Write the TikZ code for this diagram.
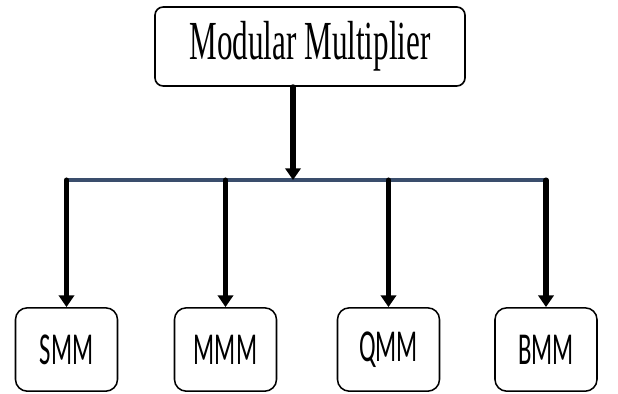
\documentclass[tikz,border=0pt]{standalone}
\usepackage{fontspec}
\usepackage{graphicx}
\usetikzlibrary{arrows.meta}
\newfontfamily\serifface{Liberation Serif}
\newfontfamily\sansface{Carlito}
% squeezed label text (the labels are narrow and tall)
\newcommand{\narrowtext}[2]{\scalebox{#1}[1]{#2}}
\definecolor{busblue}{RGB}{58,78,108}

\tikzset{
  topbox/.style={draw, line width=1.4pt, rounded corners=7pt, inner sep=0pt,
    minimum width=9.3cm, minimum height=2.37cm,
    font=\serifface\fontsize{47}{47}\selectfont},
  kindbox/.style={draw, line width=1.3pt, rounded corners=10pt, inner sep=0pt,
    minimum width=3.06cm, minimum height=2.5cm,
    font=\sansface\fontsize{39}{39}\selectfont},
  bigarrow/.style={line width=4.3pt, line cap=round, -{Triangle[width=13pt,length=10pt]}},
  bus/.style={line width=3.4pt, busblue}
}

\begin{document}
\begin{tikzpicture}[x=0.03cm, y=-0.03cm]

\useasboundingbox (0,0) rectangle (618,394);

% Boxes:
\node[topbox] (mult) at (310,46.5) {\narrowtext{0.565}{Modular Multiplier}};
\node[kindbox] (smm) at (66.5,349.5) {\narrowtext{0.54}{SMM}};
\node[kindbox] (mmm) at (225.5,349.5) {\narrowtext{0.54}{MMM}};
\node[kindbox] (qmm) at (388.5,349.5) {\narrowtext{0.54}{QMM}};
\node[kindbox] (bmm) at (546,349.5) {\narrowtext{0.54}{BMM}};

% Bus line:
\coordinate (split) at (293,180);
\draw[bus] (smm.north |- split) -- (bmm.north |- split);

% Arrows:
\draw[bigarrow] (split |- mult.south) -- (split);
\foreach \kind in {smm,mmm,qmm,bmm}
  \draw[bigarrow] (\kind.north |- split) -- (\kind.north);

\end{tikzpicture}
\end{document}
